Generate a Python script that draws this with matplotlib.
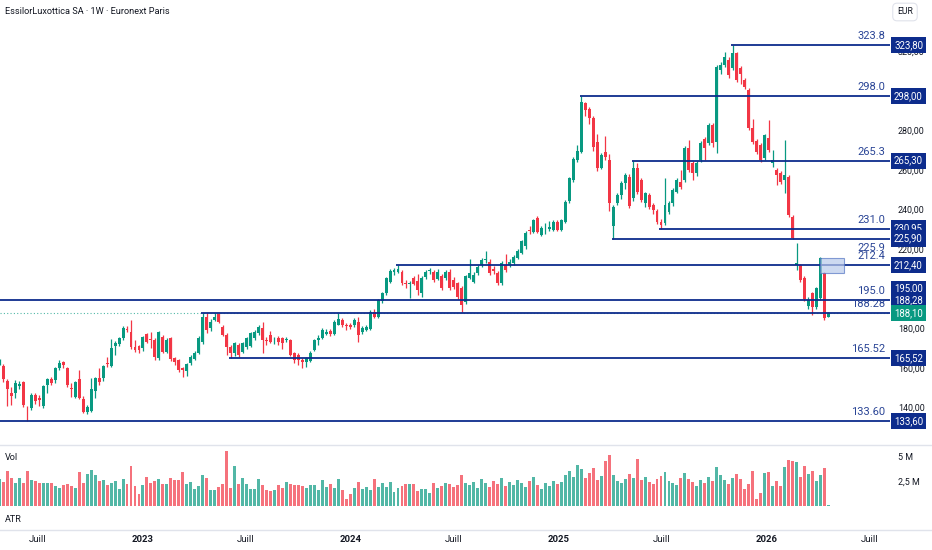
import matplotlib
matplotlib.use('Agg')
import matplotlib.pyplot as plt
from matplotlib.transforms import blended_transform_factory, offset_copy
from matplotlib.patches import Rectangle
from matplotlib.lines import Line2D
import numpy as np
import pandas as pd

plt.rcParams['font.family'] = ['Roboto', 'DejaVu Sans']

# weekly candles, oldest first
opens = [162.5, 161.6, 154, 148, 148, 151.5, 153.3, 140.2, 140, 146.7,
         145, 141, 151.8, 154.8, 154.3, 160.6, 163.4, 160.2, 150.5, 145.9,
         154.7, 144.6, 138.1, 138.8, 149, 155.2, 155.2, 163, 161.6, 171.5,
         172.5, 175.4, 180.2, 178.8, 171.2, 171.5, 170.4, 177.4, 174.9, 174.6,
         165.3, 176.3, 168.7, 175.4, 165.3, 164.5, 160.2, 159.1, 162.8, 165.1,
         168.2, 173.8, 186.1, 180.5, 184.7, 187.8, 181, 177.1, 171.2, 167.8,
         172, 168.6, 171.2, 171.5, 175.7, 177.9, 180.5, 174.6, 177.1, 174.4,
         175.4, 175.4, 174.5, 174.6, 167.8, 167, 164.5, 163.2, 164.2, 169.5,
         174.6, 175.4, 177.6, 179, 177.5, 182.2, 184.6, 182.1, 182, 182.1,
         183.8, 178.7, 179.6, 179.9, 188.9, 186.3, 194.4, 198.1, 204, 209.1,
         209.1, 209.1, 203.6, 203, 205.7, 204.5, 198.5, 206.5, 209.5, 209.2,
         205.5, 206.7, 205.8, 209.2, 205, 203.3, 200.8, 194, 206.1, 204.1,
         208.3, 212.6, 215, 214.2, 210.5, 208.3, 203.3, 212.6, 212.6, 213.4,
         216.3, 218.5, 222, 230.2, 229.4, 236.5, 227.7, 230.5, 230.5, 230.3,
         234.5, 230.3, 234.5, 244.9, 255.5, 265.7, 269.9, 294.3, 291.5, 286.7,
         274.9, 261.8, 269.9, 265.7, 232, 244, 248, 253.9, 257.1, 246.2,
         261.4, 255.5, 243.7, 247.9, 242.8, 239.8, 234.4, 233.5, 239.4, 243.7,
         249.6, 254.6, 255.5, 271.5, 263.9, 258.8, 265.6, 276.2, 274, 283.3,
         274.8, 311.1, 313.6, 316.2, 312, 319.5, 312, 306.1, 301, 281.9,
         275.2, 273.2, 266.4, 276.5, 263.9, 260.5, 258.8, 255.5, 257.1, 236.9,
         212.5, 212.5, 205.8, 191.8, 198.2, 191.5, 195.7, 208.3, 186.4]
highs = [165, 162.5, 155, 150.6, 154.3, 154, 154, 141, 148, 148,
         146.5, 152, 155.5, 156, 161, 164.5, 164, 161, 152.6, 154,
         159.4, 146, 141.5, 155.2, 156, 160.2, 162, 166.1, 174.9, 174,
         176, 181.5, 181.5, 184.7, 174.6, 172, 176.5, 178, 178.8, 175.5,
         179, 177, 175.5, 176, 166, 165, 161, 163, 167, 169,
         176.5, 188.28, 188, 185, 188, 188.2, 182, 178, 172, 173.5,
         173, 173.5, 176, 178.5, 179.5, 182.1, 183.8, 176, 179.1, 176,
         176.5, 176, 176, 175, 168.5, 168, 165.5, 166, 169, 175,
         177, 180.5, 180, 180, 184.5, 188, 185.5, 183, 183, 185.5,
         186, 181.5, 182, 189.5, 190, 195.5, 199, 206.5, 210.5, 211,
         212.4, 209.8, 205, 204.5, 207, 208.2, 207, 210, 211, 210,
         210.5, 208, 210, 210.5, 206.5, 204, 202, 207.5, 215.5, 209,
         212.5, 216, 219.5, 215.5, 212, 209.5, 214.5, 218, 215.5, 217.5,
         220.5, 225, 229.5, 232, 236, 237.5, 232, 234, 235, 235.5,
         235.5, 236, 245.5, 257, 267, 273, 298, 295, 292.5, 288,
         279, 269, 278, 268.5, 243, 249, 255, 259, 258.5, 265.3,
         264, 256.5, 249.5, 249, 244, 241, 236, 256.3, 245, 251.5,
         256.5, 260.5, 272.5, 275.7, 265, 265, 275, 277, 284.5, 284.2,
         313.5, 315, 320, 317.5, 323.8, 320.5, 313, 307, 302, 286.5,
         276, 274, 279, 285.8, 270.6, 261.5, 260, 275.7, 258, 238,
         223.5, 213, 207, 196.5, 199, 201.5, 216.5, 209, 188.6]
lows = [162, 153.5, 141, 141.7, 145, 150, 140.8, 133.6, 139, 142,
        141, 140, 147.6, 152, 153, 159.5, 160.5, 150.6, 145.9, 145,
        144.5, 137.5, 137.3, 138, 145.1, 152, 154, 161, 161, 167,
        171.5, 174.5, 178.5, 170, 168.5, 168, 169, 173, 170.4, 164.5,
        164.5, 168, 168, 164, 161.9, 158.5, 156, 156.5, 162, 164.5,
        167.5, 172.5, 178, 179, 184, 183, 176.5, 167, 165.52, 166.5,
        166, 168, 170, 171, 174.5, 177, 167.8, 172, 173, 172.5,
        172, 170, 173.5, 166.5, 163, 161.9, 160.2, 161, 163.5, 169,
        172, 175, 177, 176.5, 177, 182, 181, 179.5, 180, 181,
        173.7, 177.5, 179, 179.5, 185.5, 185.8, 193.5, 197.5, 203.5, 207.5,
        208.5, 202.5, 201, 195.6, 202.5, 197.5, 196.5, 205.5, 208, 204,
        205, 200, 205, 200, 200.5, 195.5, 188.9, 193, 205.5, 203.5,
        207.5, 211.5, 213.5, 207.5, 208, 202.5, 202.5, 209, 211.5, 212.5,
        215.5, 218, 220.5, 228, 228.5, 228.5, 227, 228, 229.5, 229.5,
        229.5, 229.5, 234, 244, 254.5, 264.5, 269, 288, 284, 270,
        260, 261, 265.5, 240, 225.9, 243, 246, 251, 241.5, 245,
        248.5, 244.5, 242, 241, 238.5, 233, 230.95, 232.5, 238.5, 242.5,
        249, 251, 254.5, 259.5, 255.5, 257.5, 264.5, 265.6, 273, 272,
        269, 309, 312.5, 307, 311, 305, 304.3, 301.5, 281, 273.5,
        268.5, 264.5, 265.5, 269.5, 262.3, 253, 253.5, 248.7, 237, 225.5,
        210, 204, 194.5, 190.5, 187.2, 190.5, 195, 184.5, 186]
closes = [164, 154.8, 149.6, 146.4, 152.6, 152.3, 141.7, 140, 146.7, 143.9,
          144, 151.3, 154.8, 152.6, 160.2, 163.1, 161.8, 151.8, 150, 153.5,
          145.1, 138.3, 140.5, 149.6, 155.2, 153.5, 161.4, 162.3, 170.7, 173.2,
          175.4, 180.8, 179.7, 170.9, 169.5, 169.5, 175.9, 173.7, 174.6, 166.1,
          178.4, 168.7, 174.6, 164.8, 163.3, 159.4, 159.4, 162.4, 165.8, 168.2,
          175.7, 186.4, 179.7, 183.9, 186.4, 183.7, 177.1, 171.2, 167.8, 172.9,
          167, 172.9, 175.4, 177.9, 178.8, 181.3, 174.6, 174, 173.7, 174.6,
          173.7, 172.9, 175.2, 167, 164.4, 164.4, 163.2, 165.3, 167.8, 174.5,
          175.6, 179.6, 178.4, 177.5, 183.5, 185.4, 182.1, 181.4, 181.3, 184.6,
          177.1, 180.4, 181.3, 188.9, 186.3, 194.8, 198.1, 205.7, 209.6, 209.9,
          210.3, 203.2, 202.8, 203.3, 203, 200, 206.1, 209.2, 210.2, 205,
          209.2, 200.8, 209.2, 200.8, 201.6, 196.5, 192.3, 206.7, 208.3, 207.5,
          211.7, 215.1, 215.3, 208.3, 209.5, 203.3, 213.4, 210, 214.2, 216.8,
          219.6, 224.4, 228.6, 229.6, 235.3, 229.4, 231, 230.8, 231.5, 234.5,
          230.3, 235.3, 244.6, 256.4, 266.2, 270.2, 295.2, 291, 286.7, 272.4,
          261.8, 267.9, 266.9, 243.7, 241.6, 248, 253.9, 258, 242.5, 261.4,
          249.6, 245.3, 248.7, 242, 240.3, 234.4, 232.7, 242.8, 243.7, 250.4,
          255.5, 252.1, 271.5, 260.5, 258.8, 263.9, 274, 271.5, 283.3, 274,
          312.8, 313.6, 317.8, 308.6, 319.5, 306.1, 308.9, 302.7, 281.9, 274.8,
          269.8, 265.6, 278.2, 270.6, 265.6, 258, 254.6, 258, 237.8, 226,
          213.4, 205, 195.2, 194.8, 191.5, 200.7, 215.9, 185.5, 188.1]
# volume in millions of shares
volumes = [2.76, 2.48, 3.62, 2.93, 2.41, 2.86, 2.34, 3.59, 2.69, 2.55,
           2.41, 2.34, 2.41, 2.41, 2.07, 1.83, 2.17, 2.24, 2.07, 1.83,
           3.52, 2.41, 3.28, 3.66, 3.24, 2.55, 2.66, 2.14, 2.41, 2.55,
           1.72, 2.83, 2.28, 4.07, 2.07, 1.21, 2.14, 3.03, 2.34, 2.62,
           2.83, 2.28, 2.24, 2.93, 2.69, 2.69, 3.55, 2.28, 2.48, 1.72,
           2.07, 3.21, 2.90, 1.62, 1.62, 2.0, 2.24, 5.62, 1.90, 4.14,
           2.28, 2.93, 2.28, 1.72, 1.72, 2.83, 2.21, 1.62, 1.55, 1.62,
           2.21, 1.83, 2.48, 2.24, 2.17, 2.17, 2.07, 1.83, 2.21, 2.21,
           1.62, 2.66, 2.0, 2.24, 1.86, 2.76, 1.69, 0.69, 1.28, 1.90,
           2.52, 1.72, 1.97, 1.62, 2.76, 2.0, 2.34, 1.97, 2.48, 1.45,
           1.90, 2.07, 2.28, 2.28, 2.28, 1.55, 1.79, 1.72, 1.38, 2.41,
           1.90, 2.07, 2.41, 2.24, 1.93, 2.21, 3.17, 2.41,
           2.2, 2.5, 1.9, 2.8, 2.4, 2.0, 2.6, 2.3, 2.9, 2.1,
           2.5, 2.2, 2.7, 2.4, 2.0, 2.6, 3.0, 2.2, 1.8, 2.4,
           2.1, 2.6, 2.3,
           2.5, 3.2, 3.6, 3.0, 4.2, 3.8, 2.9, 3.4, 3.9, 2.7,
           3.1, 4.6, 5.3, 3.2, 2.6, 2.4, 2.8, 3.3, 2.9, 4.8,
           2.7, 3.0, 2.5, 2.3, 2.8, 3.1, 3.5, 2.6, 2.4, 2.2,
           2.9, 3.4, 2.8, 2.5, 2.1, 2.7, 2.4, 3.0, 2.6, 4.0,
           3.2, 2.7, 2.3, 2.9, 3.3,
           2.75, 1.8, 2.3, 3.6, 0.7, 1.3, 3.4, 3.5, 2.1, 2.6,
           2.1, 4.0, 4.7, 4.6, 4.5, 3.0, 4.1, 3.3, 3.6, 2.6,
           3.2, 3.9, 0.1]
last_week = '2026-04-20'
last_price = 188.10

# drawn horizontal levels: value, chart label, axis label, first candle
levels = [323.8, 298.0, 265.3, 230.95, 225.9, 212.4, 195.0, 188.28, 165.52, 133.6]
level_text = ['323.8', '298.0', '265.3', '231.0', '225.9', '212.4', '195.0', '188.28', '165.52', '133.60']
level_axis = ['323,80', '298,00', '265,30', '230,95', '225,90', '212,40', '195,00', '188,28', '165,52', '133,60']
level_from = [184, 146, 159, 166, 154, 100, 0, 51, 58, 0]

zone_left, zone_right = 205.8, 211.8
zone_low, zone_high = 208.3, 215.9

tick_dates = ['2022-07-01', '2023-01-01', '2023-07-01', '2024-01-01', '2024-07-01',
              '2025-01-01', '2025-07-01', '2026-01-01', '2026-07-01']
tick_names = ['Juill', '2023', 'Juill', '2024', 'Juill', '2025', 'Juill', '2026', 'Juill']
# 200 and 300 sit under the level boxes on the reference, so they are not shown
price_ticks = [140, 160, 180, 220, 240, 260, 280, 320]

GREEN = '#089981'
RED = '#f23645'
NAVY = '#0d2c8c'
TXT = '#131722'

W, H = 932, 550
fig = plt.figure(figsize=(W / 100, H / 100), dpi=100)


def rect(x0, y0, x1, y1):
    return [x0 / W, 1 - y1 / H, (x1 - x0) / W, (y1 - y0) / H]


n = len(closes)
x = np.arange(n)
o = np.array(opens)
c = np.array(closes)
up = c >= o
cols = np.where(up, GREEN, RED)

px_per_bar = 3.985
x_off = -0.5
xlim = ((0 - x_off) / px_per_bar, (890 - x_off) / px_per_bar)

ax = fig.add_axes(rect(0, 0, 890, 443))
vax = fig.add_axes(rect(0, 445, 890, 510))
tax = fig.add_axes(rect(0, 510, 890, 530))
for a in (ax, vax, tax):
    a.set_xlim(*xlim)
    for s in a.spines.values():
        s.set_visible(False)
    a.set_xticks([])
    a.set_yticks([])

ax.set_ylim(122.47, 346.55)

# candles
ax.vlines(x, lows, highs, colors=cols, linewidth=0.9, zorder=3)
ax.bar(x, np.maximum(np.abs(c - o), 0.3), bottom=np.minimum(o, c), width=0.74,
       color=cols, linewidth=0, zorder=3)

# last price dotted line
ax.axhline(last_price, color=GREEN, linestyle=(0, (1, 2)), linewidth=0.8, alpha=0.7, zorder=2)

# levels
txt_x = (885 - x_off) / px_per_bar
lab_tr = blended_transform_factory(ax.transAxes, ax.transData)
box_shift = {195.0: 11, 188.28: 12.7}
for lv, t, at, start in zip(levels, level_text, level_axis, level_from):
    ax.hlines(lv, start - 0.4, xlim[1], color=NAVY, linewidth=1.3, zorder=4)
    dy = -9 if t == '225.9' else 9
    ax.text(txt_x, lv, t, transform=offset_copy(ax.transData, fig, y=dy, units='dots'),
            ha='right', va='center', fontsize=8, color='#2a4596', zorder=5)
    ax.text(894 / 890, lv, at,
            transform=offset_copy(lab_tr, fig, y=box_shift.get(lv, 0), units='dots'),
            ha='left', va='center', fontsize=6.9, color='white', clip_on=False, zorder=6,
            bbox=dict(boxstyle='square,pad=0.32', fc=NAVY, ec='none'))

ax.text(894 / 890, last_price, '188,10', transform=lab_tr, ha='left', va='center',
        fontsize=6.9, color='white', clip_on=False, zorder=7,
        bbox=dict(boxstyle='square,pad=0.32', fc=GREEN, ec='none'))

# zone box
ax.add_patch(Rectangle((zone_left, zone_low), zone_right - zone_left, zone_high - zone_low,
                       facecolor='#b9c9ea', edgecolor='#5577c4', linewidth=0.8,
                       alpha=0.7, zorder=5))

# price axis labels
for p in price_ticks:
    ax.text(898 / 890, p, f'{p},00', transform=lab_tr, ha='left', va='center',
            fontsize=6.4, color=TXT, clip_on=False, zorder=1)

# volume
vax.set_ylim(-0.41, 6.28)
vax.bar(x, volumes, width=0.74, color=cols, alpha=0.7, linewidth=0)
vtr = blended_transform_factory(vax.transAxes, vax.transData)
for v, s in [(5, '5 M'), (2.5, '2,5 M')]:
    vax.text(898 / 890, v, s, transform=vtr, ha='left', va='center',
             fontsize=6.4, color=TXT, clip_on=False)

# time axis
dates = pd.date_range(end=last_week, periods=n, freq='7D')
tpos = [(pd.Timestamp(d) - dates[0]).days / 7 for d in tick_dates]
for tp, name in zip(tpos, tick_names):
    fig.text((tp * px_per_bar + x_off) / W, 1 - 540 / H, name, ha='center', va='center',
             fontsize=6.8, color=TXT, fontweight='bold' if name != 'Juill' else 'normal')

# pane separators
for yy in (445, 530):
    fig.add_artist(Line2D([0, 1], [1 - yy / H] * 2, color='#e0e3eb', linewidth=1))

fig.text(5 / W, 1 - 12 / H, 'EssilorLuxottica SA · 1W · Euronext Paris',
         ha='left', va='center', fontsize=6.6, color=TXT)
fig.text(905 / W, 1 - 12 / H, 'EUR', ha='center', va='center', fontsize=6.2, color=TXT,
         bbox=dict(boxstyle='round,pad=0.5', fc='white', ec='#e0e3eb', linewidth=0.8))
fig.text(5 / W, 1 - 457 / H, 'Vol', ha='left', va='center', fontsize=6.6, color=TXT)
fig.text(5 / W, 1 - 519 / H, 'ATR', ha='left', va='center', fontsize=6.6, color=TXT)

fig.savefig('out.png', dpi=100, facecolor='white')
